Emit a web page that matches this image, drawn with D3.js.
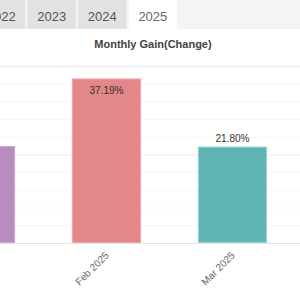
<!DOCTYPE html>
<html>
<head>
  <meta charset="utf-8">
  <script src="https://d3js.org/d3.v7.min.js"></script>
  <style>
    body { margin: 0; background: #fff; font-family: "Liberation Sans", Arial, sans-serif; }
  </style>
</head>
<body>
  <svg width="300" height="300"></svg>
  <script>
    // datos del gráfico
    const years = ["2022", "2023", "2024", "2025"];
    const activeYear = "2025";
    const months = ["Jan 2025", "Feb 2025", "Mar 2025"];
    const gains = [21.9, 37.19, 21.80];
    const barColors = ["#b98bbf", "#e48788", "#5fb4b4"];
    const borderColors = ["#cfa8d4", "#f2a9ad", "#9ad6d6"];
    const yTicks = [0, 4, 8, 12, 16, 20, 24, 28, 32, 36, 40];

    const svg = d3.select("svg");

    // pestañas de años
    svg.append("rect").attr("x", 0).attr("y", 0).attr("width", 300).attr("height", 29).attr("fill", "#f4f4f4");
    const tabX = d3.scaleBand().domain(years).range([-23, 177]).paddingInner(0.045);
    const tabs = svg.append("g").selectAll("g").data(years).enter().append("g");
    tabs.append("rect")
      .attr("x", d => tabX(d)).attr("y", 0)
      .attr("width", tabX.bandwidth()).attr("height", 29)
      .attr("fill", d => d === activeYear ? "#fff" : "#e2e2e2");
    tabs.append("text")
      .attr("x", d => tabX(d) + tabX.bandwidth() / 2).attr("y", 21)
      .attr("text-anchor", "middle")
      .style("font-size", "13px")
      .attr("fill", d => d === activeYear ? "#666" : "#555")
      .text(d => d);

    // título
    svg.append("text")
      .attr("x", 153).attr("y", 48)
      .attr("text-anchor", "middle")
      .style("font-size", "11px").style("font-weight", "bold")
      .attr("fill", "#444")
      .text("Monthly Gain(Change)");

    const x = d3.scaleBand().domain(months).range([-110.85, 323.85]).padding(0.45);
    const y = d3.scaleLinear().domain([0, 40]).range([243, 66]);

    // rejilla
    svg.append("g").selectAll("line").data(yTicks).enter().append("line")
      .attr("x1", 0).attr("x2", 300)
      .attr("y1", d => y(d) + 0.5).attr("y2", d => y(d) + 0.5)
      .attr("stroke", d => d === 0 ? "#e2e2e2" : (d % 20 === 0 ? "#ececec" : "#f6f6f6"));

    // barras
    const bars = svg.append("g").selectAll("rect").data(months).enter().append("rect")
      .attr("x", d => x(d) + 0.5)
      .attr("y", (d, i) => y(gains[i]) + 0.5)
      .attr("width", x.bandwidth() - 1)
      .attr("height", (d, i) => y(0) - y(gains[i]) - 1)
      .attr("fill", (d, i) => barColors[i])
      .attr("stroke", (d, i) => borderColors[i]);

    // etiquetas de valor
    svg.append("g").selectAll("text").data(months).enter().append("text")
      .attr("x", d => x(d) + x.bandwidth() / 2)
      .attr("y", (d, i) => gains[i] > 35 ? y(gains[i]) + 16 : y(gains[i]) - 5)
      .attr("text-anchor", "middle")
      .style("font-size", "10px")
      .attr("fill", "#333")
      .text((d, i) => gains[i].toFixed(2) + "%");

    // etiquetas del eje x
    svg.append("g").selectAll("text").data(months).enter().append("text")
      .attr("transform", d => `translate(${x(d) + x.bandwidth() / 2 + 3},256) rotate(-45)`)
      .attr("text-anchor", "end")
      .style("font-size", "10px")
      .attr("fill", "#666")
      .text(d => d);
  </script>
</body>
</html>
